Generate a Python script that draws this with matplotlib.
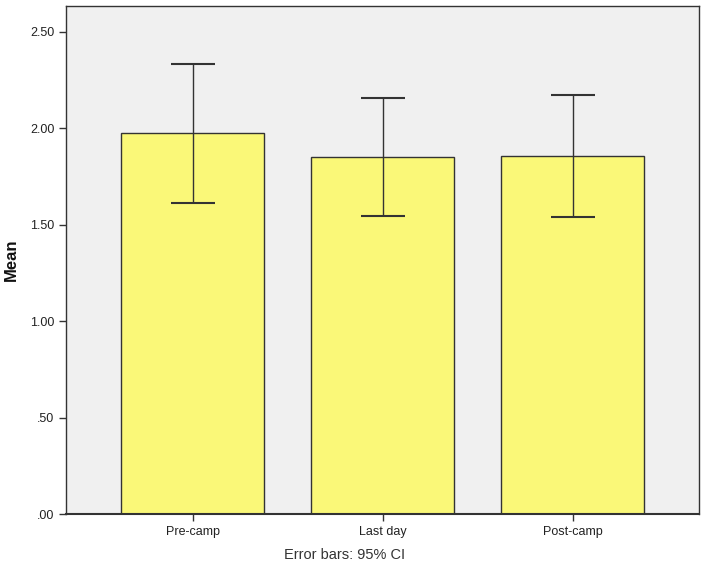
import matplotlib
matplotlib.use("Agg")
import matplotlib.pyplot as plt
from matplotlib.ticker import FixedLocator

categories = ["Pre-camp", "Last day", "Post-camp"]
means = [1.974, 1.854, 1.857]
ci_low = [1.615, 1.547, 1.541]
ci_high = [2.333, 2.160, 2.173]
yticks = [0.0, 0.5, 1.0, 1.5, 2.0, 2.5]
ytick_labels = [".00", ".50", "1.00", "1.50", "2.00", "2.50"]

plt.rcParams['font.family'] = ['Liberation Sans', 'DejaVu Sans']

fig = plt.figure(figsize=(7.04, 5.69), dpi=100)
ax = fig.add_axes([0.094, 0.0958, 0.899, 0.8928])
ax.set_facecolor("#F0F0F0")

x = list(range(len(categories)))
yerr = [[m - l for m, l in zip(means, ci_low)], [h - m for m, h in zip(means, ci_high)]]
ax.bar(x, means, width=0.75, color="#FAF878", edgecolor="#333333", linewidth=1.0, zorder=2)
ax.errorbar(x, means, yerr=yerr, fmt="none", ecolor="#333333", elinewidth=1.0,
            capsize=15.5, capthick=1.5, zorder=3)

ax.set_xlim(-0.665, 2.665)
ax.set_ylim(0, 2.632)
ax.yaxis.set_major_locator(FixedLocator(yticks))
ax.set_yticklabels(ytick_labels)
ax.set_xticks(x)
ax.set_xticklabels(categories)
ax.tick_params(axis="both", direction="out", length=5, width=1, color="#333333",
               labelsize=9, labelcolor="#222222")
for s in ax.spines.values():
    s.set_color("#333333")
    s.set_linewidth(1.0)
ax.spines["bottom"].set_linewidth(1.5)

fig.text(0.016, 0.543, "Mean", rotation=90, ha="center", va="center",
         fontsize=12, fontweight="bold", color="#111111")

fig.text(0.49, 0.024, "Error bars: 95% CI", ha="center", va="center", fontsize=10.5, color="#333333")

fig.savefig("out.png", dpi=100, facecolor="white")
